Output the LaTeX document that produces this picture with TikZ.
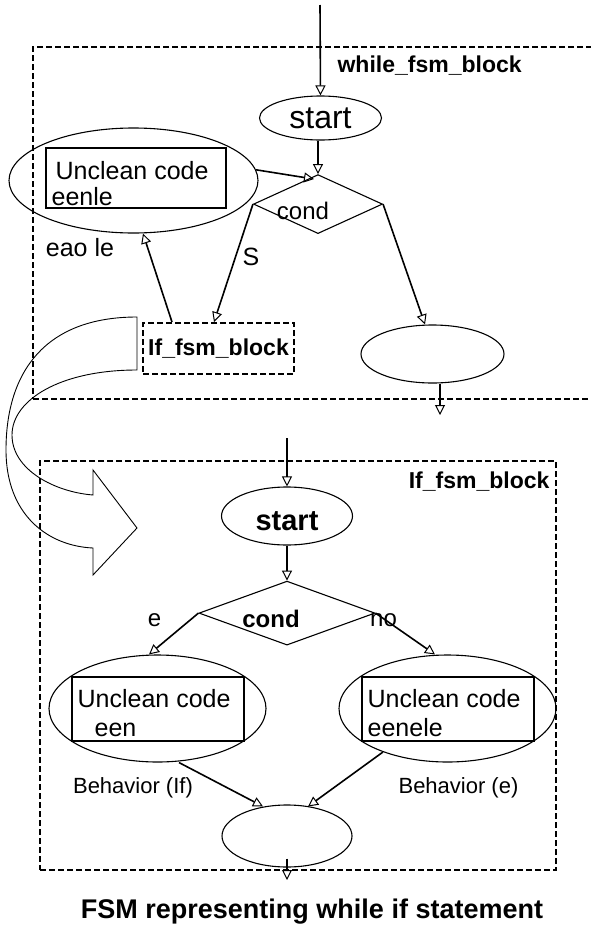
\documentclass[tikz,border=0pt]{standalone}
\usepackage{fontspec}
\setmainfont{Liberation Sans}
\usepackage{tikz}
\usetikzlibrary{shapes.geometric, arrows.meta, positioning}
\newcommand\bigfont{\fontsize{32}{36}\selectfont}
\newcommand\startfont{\fontsize{29}{32}\selectfont\bfseries}
\newcommand\codefont{\fontsize{25}{28}\selectfont}
\newcommand\condfont{\fontsize{24}{28}\selectfont}
\newcommand\blockfont{\fontsize{23}{26}\selectfont\bfseries}
\newcommand\behfont{\fontsize{22}{24}\selectfont}
\newcommand\titlefont{\fontsize{27}{30}\selectfont\bfseries}
\tikzstyle{oval} = [ellipse, draw=black, line width=1.1pt, inner sep=0pt]
\tikzstyle{decision} = [diamond, draw=black, line width=1.1pt, inner sep=0pt]
\tikzstyle{codebox} = [rectangle, draw=black, line width=1.1pt, inner sep=0pt]
\tikzstyle{codetext} = [inner sep=0pt, align=left, font=\codefont, anchor=north west]
\tikzstyle{tag} = [inner sep=0pt, font=\codefont]
\tikzstyle{fsmbox} = [rectangle, draw=black, line width=1.9pt, dash pattern=on 6pt off 3pt, inner sep=0pt]
\tikzstyle{arrow} = [line width=1.6pt, -{Triangle[open, length=10pt, width=10pt, line width=1pt]}]

\begin{document}
\begin{tikzpicture}[x=1pt, y=-1pt, node distance=0cm]
    \useasboundingbox (0,0) rectangle (590,932);

    \coordinate (in1) at (320,5);
    \node (over1) [fsmbox, minimum width=567pt, minimum height=352pt, label={[font=\blockfont, anchor=west, xshift=302pt, yshift=-20pt]north west:while\_fsm\_block}] at (316.5,223) {};

    \node (start1) [oval, minimum width=122pt, minimum height=44pt, font=\bigfont] at (320.5,118) {start};
    \node (cond1) [decision, minimum width=129pt, minimum height=59pt, below=of start1.south, xshift=-2.5pt, yshift=-33.5pt, label={[font=\condfont, xshift=-15pt, yshift=-7pt]center:cond}] {};

    \node (body1) [oval, minimum width=249pt, minimum height=105pt] at (133.5,180.5) {};
    \node (code1) [codebox, minimum width=180pt, minimum height=60pt] at (136,178) {};
    \node (txt1) [codetext] at ([xshift=10pt, yshift=-14pt]code1.north west) {Unclean code\\[-2pt]\hspace*{-4pt}eenle};

    \node (lab1) [tag] at (80,248) {eao le};
    \node (lab2) [tag] at (251,257) {S};

    \node (ifblk) [fsmbox, minimum width=151pt, minimum height=51pt, font=\blockfont] at (218.5,348.5) {If\_fsm\_block};
    \node (end1) [oval, minimum width=143pt, minimum height=58pt] at (432.5,354) {};
    \coordinate (out1) at (440,415);

    \draw [arrow] (in1) -- (start1.north);
    \draw [arrow] ([xshift=-2.5pt]start1.south) -- (cond1.north);
    \draw [arrow] (body1.5) -- ([xshift=-4pt, yshift=-5pt]cond1.north);
    \draw [arrow] (cond1.west) -- ([xshift=-4.5pt]ifblk.north);
    \draw [arrow] ([xshift=-46.5pt]ifblk.north) -- ([xshift=9.5pt]body1.south);
    \draw [arrow] (cond1.east) -- ([xshift=-7.5pt]end1.north);
    \draw [arrow] ([xshift=7.5pt]end1.south) -- (out1);

    \draw [line width=0.9pt] (137,317) -- (137,370) .. controls (60,370) and (12,400) .. (12,435)
        .. controls (12,470) and (55,492) .. (93,495) -- (93,470) -- (137,528) -- (93,575) -- (93,548)
        .. controls (48,546) and (6,515) .. (6,450) .. controls (6,372) and (45,317) .. (137,317) -- cycle;

    \coordinate (in2) at (287,438);
    \node (over2) [fsmbox, minimum width=516pt, minimum height=409pt, label={[font=\blockfont, anchor=east, xshift=-4pt, yshift=-22pt]north east:If\_fsm\_block}] at (298,665.5) {};

    \node (start2) [oval, minimum width=131pt, minimum height=58pt, label={[font=\startfont, yshift=-5pt]center:start}] at (287,516) {};
    \node (cond2) [decision, minimum width=176pt, minimum height=64pt, below=of start2.south, yshift=-35pt, label={[font=\condfont\bfseries, xshift=-16pt, yshift=-6pt]center:cond}] {};
    \node (lab3) [tag, font=\condfont] at ([xshift=-44pt, yshift=-7pt]cond2.west) {e};
    \node (lab4) [tag, font=\condfont] at ([xshift=8pt, yshift=-7pt]cond2.east) {no};

    \node (body2) [oval, minimum width=217pt, minimum height=107pt] at (157.5,708.5) {};
    \node (code2) [codebox, minimum width=172pt, minimum height=64pt] at (158,709) {};
    \node (txt2) [codetext] at ([xshift=6pt, yshift=-13pt]code2.north west) {Unclean code\\[1pt]\hspace*{17pt}een};

    \node (body3) [oval, minimum width=217pt, minimum height=107pt] at (447.5,708.5) {};
    \node (code3) [codebox, minimum width=172pt, minimum height=64pt] at (448,709) {};
    \node (txt3) [codetext] at ([xshift=6pt, yshift=-13pt]code3.north west) {Unclean code\\[1pt]eenele};

    \node (lab5) [tag, font=\behfont] at (133,788) {Behavior (If)};
    \node (lab6) [tag, font=\behfont] at (458.5,788) {Behavior (e)};

    \node (end2) [oval, minimum width=130pt, minimum height=62pt] at (287,836) {};
    \coordinate (out2) at (287,880);

    \draw [arrow] (in2) -- (start2.north);
    \draw [arrow] (start2.south) -- (cond2.north);
    \draw [arrow] (cond2.west) -- ([xshift=-8.5pt]body2.north);
    \draw [arrow] (cond2.east) -- ([xshift=-12.5pt]body3.north);
    \draw [arrow] ([xshift=21.5pt]body2.south) -- ([xshift=-24pt, yshift=-2pt]end2.north);
    \draw [arrow] (body3.214) -- ([xshift=21pt, yshift=-2pt]end2.north);
    \draw [arrow] ([yshift=9pt]end2.south) -- (out2);

    \node (title) [font=\titlefont] at (312,912) {FSM representing while if statement};

\end{tikzpicture}
\end{document}
